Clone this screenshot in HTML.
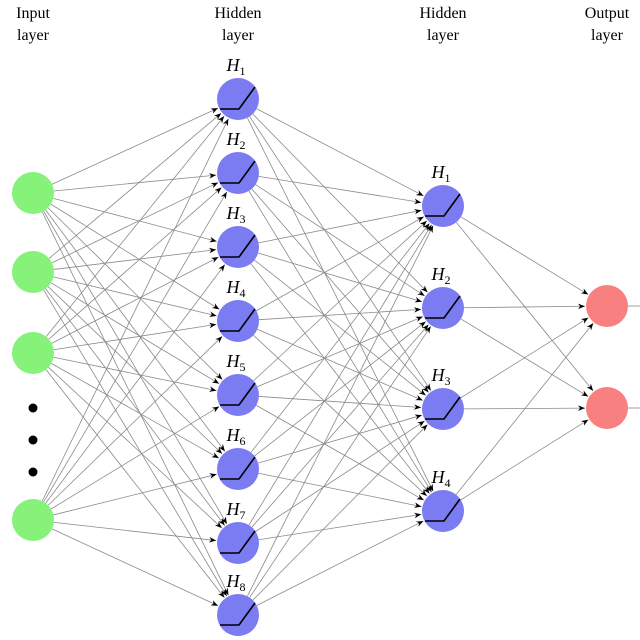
<!DOCTYPE html>
<html><head><meta charset="utf-8">
<style>
html,body{margin:0;padding:0;background:#fff;}
svg{display:block;}
text{font-family:"Liberation Serif",serif;fill:#000;}
</style></head>
<body>
<svg id="s" width="640" height="640" viewBox="0 0 640 640" xmlns="http://www.w3.org/2000/svg">
<defs>
<marker id="a" viewBox="0 0 10 10" refX="10" refY="5" markerWidth="7" markerHeight="7" orient="auto" markerUnits="userSpaceOnUse">
<path d="M0,1 L10,5 L0,9 L3,5 z" fill="#000"/>
</marker>
</defs>
<g font-size="16" text-anchor="middle">
<text x="33" y="18">Input</text><text x="33" y="40">layer</text>
<text x="238" y="18">Hidden</text><text x="238" y="40">layer</text>
<text x="443" y="18">Hidden</text><text x="443" y="40">layer</text>
<text x="607" y="18">Output</text><text x="607" y="40">layer</text>
</g>
<g id="lines" stroke="#8a8a8a" stroke-width="0.8" fill="none"></g>
<g id="nodes"></g>
<g font-size="18" font-style="italic" text-anchor="middle">
<text x="236" y="71">H<tspan font-size="12" font-style="normal" dy="4">1</tspan></text>
<text x="236" y="145">H<tspan font-size="12" font-style="normal" dy="4">2</tspan></text>
<text x="236" y="219">H<tspan font-size="12" font-style="normal" dy="4">3</tspan></text>
<text x="236" y="293">H<tspan font-size="12" font-style="normal" dy="4">4</tspan></text>
<text x="236" y="367">H<tspan font-size="12" font-style="normal" dy="4">5</tspan></text>
<text x="236" y="441">H<tspan font-size="12" font-style="normal" dy="4">6</tspan></text>
<text x="236" y="515">H<tspan font-size="12" font-style="normal" dy="4">7</tspan></text>
<text x="236" y="587">H<tspan font-size="12" font-style="normal" dy="4">8</tspan></text>
<text x="441" y="178">H<tspan font-size="12" font-style="normal" dy="4">1</tspan></text>
<text x="441" y="280">H<tspan font-size="12" font-style="normal" dy="4">2</tspan></text>
<text x="441" y="381">H<tspan font-size="12" font-style="normal" dy="4">3</tspan></text>
<text x="441" y="483">H<tspan font-size="12" font-style="normal" dy="4">4</tspan></text>
</g>
<g fill="#000">
<circle cx="33" cy="408" r="4.5"/><circle cx="33" cy="440" r="4.5"/><circle cx="33" cy="472" r="4.5"/>
</g>
</svg>
<script>
var NS="http://www.w3.org/2000/svg";
var inp=[[33,193],[33,272],[33,353],[33,520]];
var h1=[99,173,247,321,395,469,543,615].map(function(y){return[238,y]});
var h2=[206,308,409,511].map(function(y){return[443,y]});
var out=[[607,306],[607,408]];
var R=21;
var L=document.getElementById("lines"),N=document.getElementById("nodes");
function line(a,b,arrow){
 var dx=b[0]-a[0],dy=b[1]-a[1],d=Math.sqrt(dx*dx+dy*dy);
 var l=document.createElementNS(NS,"line");
 l.setAttribute("x1",a[0]+dx/d*R);l.setAttribute("y1",a[1]+dy/d*R);
 l.setAttribute("x2",b[0]-dx/d*(R+1));l.setAttribute("y2",b[1]-dy/d*(R+1));
 if(arrow)l.setAttribute("marker-end","url(#a)");
 L.appendChild(l);
}
inp.forEach(function(a){h1.forEach(function(b){line(a,b,1)})});
h1.forEach(function(a){h2.forEach(function(b){line(a,b,1)})});
h2.forEach(function(a){out.forEach(function(b){line(a,b,1)})});
out.forEach(function(o){var l=document.createElementNS(NS,"line");l.setAttribute("x1",o[0]+R);l.setAttribute("y1",o[1]);l.setAttribute("x2",640);l.setAttribute("y2",o[1]);L.appendChild(l);});
function circ(p,f){var c=document.createElementNS(NS,"circle");c.setAttribute("cx",p[0]);c.setAttribute("cy",p[1]);c.setAttribute("r",R);c.setAttribute("fill",f);N.appendChild(c);}
function relu(p){var q=document.createElementNS(NS,"polyline");var x=p[0],y=p[1];
 q.setAttribute("points",(x-18)+","+(y+10)+" "+(x+1)+","+(y+10)+" "+(x+17)+","+(y-12));
 q.setAttribute("fill","none");q.setAttribute("stroke","#000");q.setAttribute("stroke-width","1.6");N.appendChild(q);}
inp.forEach(function(p){circ(p,"#86f27a")});
h1.concat(h2).forEach(function(p){circ(p,"#7b7bf2");relu(p)});
out.forEach(function(p){circ(p,"#f88080")});
</script>
</body></html>
